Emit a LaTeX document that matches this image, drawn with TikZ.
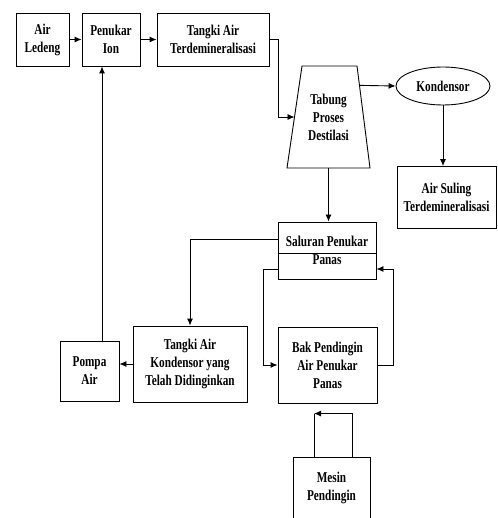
\documentclass[tikz,border=0pt]{standalone}
\usepackage{fontspec}
\setmainfont{Liberation Serif}[FakeStretch=0.75]
\usepackage{tikz}
\usetikzlibrary{arrows.meta, positioning, shapes.geometric, calc}

\begin{document}
\begin{tikzpicture}[x=1pt, y=-1pt,
                label/.style={align=center, inner sep=1pt, font=\fontsize{15}{18}\selectfont\bfseries},
                box/.style={label, draw, line width=0.9pt},
                conn/.style={line width=0.9pt},
                arr/.style={conn, -{Latex[length=7pt, width=6pt]}}]

                \useasboundingbox (0,0) rectangle (497,518);
                \clip (0,0) rectangle (497,518);

                % top row
                \node[box, minimum width=53pt, minimum height=53pt] (ledeng) at (42.5,39.5) {Air\\Ledeng};
                \node[box, minimum width=58pt, minimum height=53pt] (ion) at (111,39.5) {Penukar\\Ion};
                \node[box, minimum width=112pt, minimum height=53pt] (tangki) at (213,39.5) {Tangki Air\\Terdemineralisasi};

                % distillation column (narrow top) and condenser
                \draw[conn] (302,66) coordinate (tabung tl) -- (357,66) coordinate (tabung tr)
                    -- (370,168) coordinate (tabung br) -- (287,168) coordinate (tabung bl) -- cycle;
                \node[label] (tabung) at (328.5,117) {Tabung\\Proses\\Destilasi};
                \node[box, ellipse, minimum width=94pt, minimum height=38pt] (kondensor) at (443,86) {Kondensor};
                \node[box, minimum width=99pt, minimum height=62pt] (suling) at (446.5,197.5) {Air Suling\\Terdemineralisasi};

                % heat exchanger and cooling
                \node[box, minimum width=98pt, minimum height=57pt] (saluran) at (327,250.5) {Saluran Penukar\\Panas};
                \draw[conn] ([yshift=-2.5pt]saluran.west) -- ([yshift=-2.5pt]saluran.east);
                \node[box, minimum width=114pt, minimum height=76pt] (dingin) at (190,364) {Tangki Air\\Kondensor yang\\Telah Didinginkan};
                \node[box, minimum width=99pt, minimum height=76pt] (bak) at (327.5,365) {Bak Pendingin\\Air Penukar\\Panas};
                \node[box, minimum width=59pt, minimum height=60pt] (pompa) at (89.5,371) {Pompa\\Air};
                \node[box, minimum width=77pt, minimum height=62pt] (mesin) at (331.5,488) {Mesin\\Pendingin};

                % flow along the top
                \draw[arr] (ledeng.east) -- (ion.west);
                \draw[arr] (ion.east) -- (tangki.west);
                \draw[arr] (tangki.east) -- ++(9,0) |- ($(tabung tl)!0.5!(tabung bl)$);
                \draw[arr] ($(tabung tr)!0.19!(tabung br)$) -- (kondensor.west);
                \draw[arr] (kondensor.south) -- (kondensor.south |- suling.north);
                \draw[arr] ($(tabung bl)!0.5!(tabung br)$) -- (tabung.center |- saluran.north);

                % heat exchanger loop
                \draw[arr] ([yshift=11.5pt]saluran.west) -| (dingin.north);
                \draw[arr] ([yshift=-18.5pt]saluran.west) -- ++(-14,0) |- (bak.west);
                \draw[arr] (bak.east) -- ++(16,0) |- ([yshift=-18.5pt]saluran.east);

                % return to the ion exchanger
                \draw[arr] (dingin.west) -- (dingin.west -| pompa.east);
                \draw[arr] ([xshift=12.5pt]pompa.north) -- ([xshift=-9pt]ion.south);

                % cooling machine
                \draw[arr] ([xshift=20.5pt]mesin.north) |- ([xshift=-17.5pt, yshift=43pt]mesin.north) coordinate (balik);
                \draw[conn] (balik) -- (balik |- mesin.north);
            \end{tikzpicture}
\end{document}
